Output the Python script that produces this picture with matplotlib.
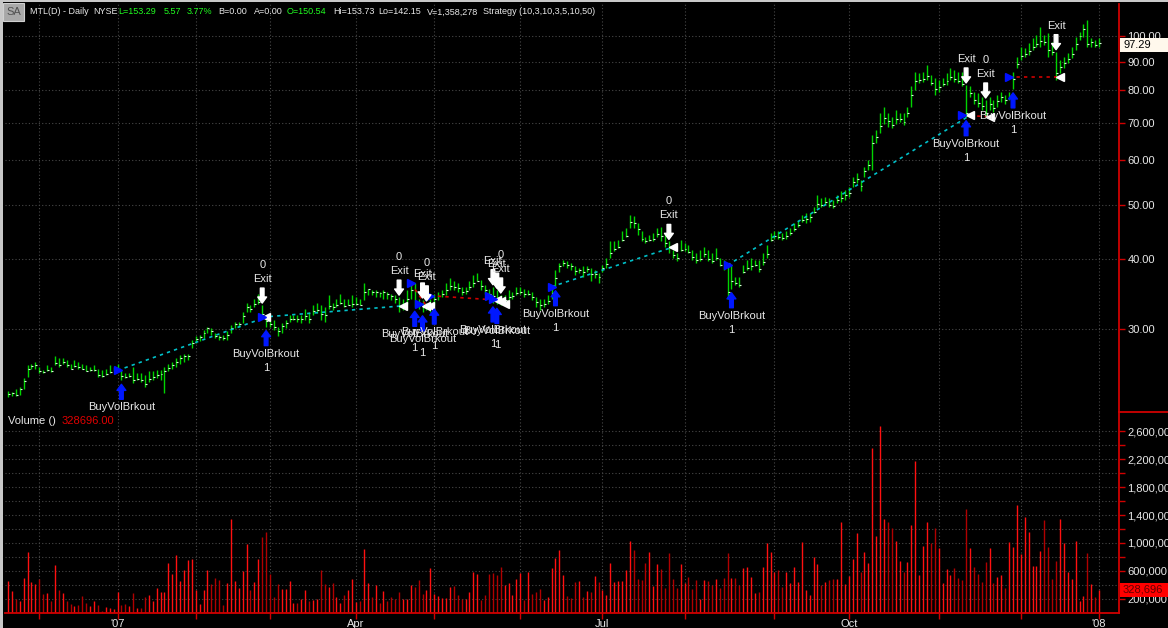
import numpy as np
import matplotlib
matplotlib.use("Agg")
import matplotlib.pyplot as plt
from matplotlib.ticker import FixedLocator, FuncFormatter, NullLocator
from matplotlib.transforms import offset_copy
from matplotlib.patches import Rectangle
from matplotlib.lines import Line2D

plt.rcParams['font.family'] = ['Liberation Sans', 'DejaVu Sans']

# daily bars, MTL, 20 Nov 2006 .. 2 Jan 2008 (280 sessions)
close = [23.0, 23.1, 22.9, 23.4, 24.2, 25.5, 25.8, 25.9, 25.2, 25.1,
         25.4, 25.2, 26.1, 25.9, 26.2, 25.9, 25.5, 25.8, 25.7, 25.5,
         25.2, 25.3, 25.3, 24.8, 24.7, 24.9, 25.1, 25.3, 25.5, 24.7,
         24.6, 24.7, 24.3, 24.4, 24.3, 23.9, 24.4, 24.6, 24.8, 24.9,
         25.2, 25.6, 25.9, 26.2, 26.6, 26.8, 26.9, 28.3, 28.8, 29.0,
         29.5, 30.1, 29.7, 29.2, 29.0, 28.9, 29.3, 30.1, 30.6, 30.6,
         31.6, 32.8, 32.6, 33.2, 33.5, 31.9, 31.0, 30.6, 30.3, 29.8,
         30.4, 30.7, 31.2, 31.3, 31.2, 31.3, 31.7, 31.3, 32.3, 32.5,
         31.9, 31.8, 33.0, 32.8, 33.1, 33.4, 33.0, 33.1, 33.2, 33.2,
         33.1, 35.0, 35.3, 34.9, 35.0, 34.8, 34.9, 34.6, 34.4, 34.0,
         33.0, 33.3, 34.0, 35.2, 33.6, 33.3, 32.8, 32.9, 33.0, 34.0,
         34.4, 34.6, 35.2, 35.8, 35.6, 35.5, 35.0, 35.1, 35.6, 36.2,
         36.6, 35.8, 35.2, 34.7, 34.3, 34.0, 33.7, 33.8, 34.2, 34.3,
         34.8, 34.9, 34.6, 34.6, 34.2, 33.5, 33.1, 33.3, 33.7, 34.8,
         37.0, 38.8, 39.3, 39.0, 38.8, 38.1, 38.2, 38.0, 38.4, 37.6,
         37.6, 37.2, 38.5, 39.2, 41.0, 41.7, 42.1, 43.2, 44.0, 46.5,
         46.3, 45.2, 43.5, 43.0, 43.2, 43.5, 44.3, 44.0, 42.8, 42.0,
         40.6, 40.2, 41.5, 41.6, 41.2, 40.3, 39.8, 40.0, 40.8, 40.0,
         39.7, 40.2, 39.0, 38.5, 35.0, 36.5, 36.3, 36.0, 38.0, 38.6,
         38.8, 39.0, 38.4, 39.5, 40.8, 43.2, 43.9, 43.8, 43.6, 44.0,
         44.6, 45.3, 46.0, 47.0, 47.2, 47.5, 48.6, 50.2, 50.0, 50.6,
         50.0, 49.8, 51.0, 51.5, 52.0, 52.5, 55.0, 55.5, 54.0, 57.5,
         58.8, 64.5, 66.0, 69.0, 71.5, 70.5, 69.5, 71.0, 71.2, 70.2,
         73.0, 78.5, 83.0, 83.5, 84.0, 85.0, 82.5, 80.5, 81.0, 82.0,
         83.0, 84.5, 84.0, 83.0, 82.0, 73.0, 79.0, 77.0, 76.0, 75.0,
         73.0, 75.5, 74.5, 76.5, 77.8, 77.0, 78.0, 84.0, 89.0, 92.0,
         92.8, 94.0, 95.5, 97.0, 98.0, 97.5, 94.5, 93.5, 86.0, 88.0,
         89.5, 91.0, 93.0, 97.0, 100.0, 103.0, 97.0, 97.5, 96.5, 97.29]

high = [23.3, 23.2, 23.4, 23.6, 24.5, 25.9, 26.0, 26.2, 25.7, 25.4,
        25.9, 25.7, 26.8, 26.6, 26.6, 26.4, 26.0, 26.4, 26.2, 26.0,
        25.9, 25.7, 25.9, 25.5, 25.35, 25.5, 25.9, 25.7, 26.0, 25.4,
        25.0, 25.0, 25.7, 25.0, 25.0, 24.8, 25.2, 25.2, 25.35, 25.35,
        25.7, 26.0, 26.2, 26.6, 27.0, 27.1, 27.1, 28.7, 29.1, 29.3,
        29.9, 30.3, 30.1, 29.5, 29.3, 29.3, 29.7, 30.5, 30.9, 30.9,
        32.2, 33.4, 33.1, 33.9, 34.6, 33.1, 31.8, 31.1, 31.1, 30.3,
        30.7, 31.1, 31.8, 31.8, 31.8, 31.8, 32.6, 32.2, 33.1, 33.4,
        33.1, 32.8, 34.5, 33.4, 33.9, 34.6, 33.9, 33.9, 34.5, 34.2,
        33.9, 36.2, 35.4, 35.2, 35.2, 34.9, 35.2, 34.9, 34.6, 34.5,
        34.2, 33.9, 35.2, 36.2, 36.2, 33.9, 33.8, 33.4, 33.9, 34.6,
        34.9, 35.2, 36.2, 37.0, 36.5, 36.2, 35.7, 35.7, 36.5, 37.5,
        37.8, 36.7, 35.9, 35.4, 35.7, 35.2, 34.5, 34.5, 35.2, 34.9,
        35.7, 35.7, 35.4, 35.2, 34.9, 34.2, 33.9, 33.9, 34.5, 35.9,
        38.2, 39.3, 39.8, 39.6, 39.3, 38.8, 38.5, 38.8, 38.8, 38.5,
        38.2, 37.8, 39.0, 40.1, 43.0, 43.0, 43.3, 44.8, 45.4, 48.0,
        47.7, 46.3, 44.8, 43.8, 44.1, 44.5, 45.4, 45.7, 44.5, 43.0,
        41.5, 41.0, 43.3, 42.7, 42.4, 41.5, 41.0, 41.5, 42.1, 41.5,
        41.0, 41.8, 40.1, 39.8, 38.8, 39.0, 37.2, 37.2, 39.0, 39.8,
        40.1, 39.8, 39.8, 41.0, 42.4, 44.5, 44.8, 44.8, 44.5, 44.8,
        45.4, 46.3, 47.0, 48.0, 48.3, 48.3, 49.6, 52.0, 51.3, 51.6,
        51.3, 51.0, 52.0, 52.8, 53.2, 53.8, 56.1, 56.9, 55.4, 58.5,
        60.1, 66.6, 68.0, 72.8, 74.8, 72.8, 71.8, 73.8, 72.8, 72.8,
        74.8, 81.3, 86.4, 85.8, 86.4, 88.8, 85.2, 84.1, 83.5, 84.1,
        85.8, 87.6, 87.0, 86.4, 86.4, 81.8, 81.3, 79.6, 79.1, 78.0,
        76.9, 78.0, 76.9, 78.5, 79.6, 78.5, 79.6, 86.4, 91.9, 95.8,
        95.1, 97.1, 99.1, 100.4, 103.9, 100.4, 101.1, 97.7, 93.8, 90.6,
        91.9, 93.2, 95.8, 99.7, 101.8, 105.3, 106.8, 99.1, 98.4, 99.1]

low = [22.7, 22.8, 22.8, 22.9, 23.4, 24.6, 25.5, 25.5, 25.0, 25.0,
       25.2, 25.1, 25.9, 25.7, 26.0, 25.7, 25.5, 25.7, 25.5, 25.5,
       25.2, 25.2, 25.2, 24.6, 24.6, 24.8, 25.0, 25.2, 25.3, 24.3,
       24.5, 24.6, 24.0, 24.3, 24.1, 23.6, 24.1, 24.3, 24.5, 24.3,
       23.1, 25.2, 25.5, 25.7, 26.0, 26.2, 26.4, 27.7, 28.3, 28.5,
       28.9, 29.5, 29.3, 28.9, 28.7, 28.7, 28.7, 29.5, 30.1, 30.3,
       30.7, 32.2, 32.2, 32.8, 33.2, 31.5, 30.3, 30.3, 29.9, 29.1,
       29.5, 30.1, 30.9, 31.1, 30.9, 30.7, 31.1, 30.7, 31.8, 32.0,
       31.1, 30.9, 32.6, 32.4, 32.8, 33.2, 32.8, 33.1, 32.8, 33.1,
       33.1, 33.8, 34.5, 34.5, 34.2, 34.2, 33.9, 33.9, 33.8, 33.4,
       32.2, 32.4, 33.2, 33.9, 32.8, 32.6, 32.2, 32.4, 32.2, 33.1,
       33.8, 34.2, 34.5, 35.2, 35.2, 34.9, 34.5, 34.6, 35.2, 35.7,
       36.5, 35.2, 34.6, 33.9, 33.4, 33.2, 33.1, 33.4, 33.8, 33.9,
       34.5, 34.6, 34.2, 34.5, 33.8, 32.8, 32.4, 32.8, 33.2, 33.9,
       35.7, 38.0, 38.8, 38.5, 38.2, 37.5, 37.8, 37.2, 38.0, 36.5,
       37.0, 36.2, 38.0, 38.5, 40.1, 41.3, 41.8, 43.0, 43.8, 45.4,
       45.4, 44.1, 43.0, 42.7, 43.0, 43.0, 43.8, 43.0, 42.1, 41.0,
       40.1, 39.6, 41.3, 41.3, 41.0, 39.8, 39.3, 39.6, 40.4, 39.6,
       39.3, 39.8, 38.8, 38.2, 33.9, 35.4, 35.9, 35.7, 37.8, 38.2,
       38.2, 38.8, 38.0, 39.0, 40.1, 43.0, 43.5, 43.5, 43.3, 43.5,
       44.1, 44.8, 45.7, 46.6, 46.3, 46.6, 48.3, 49.3, 49.6, 49.9,
       49.6, 49.3, 50.3, 50.6, 51.0, 51.7, 53.8, 54.6, 52.8, 56.1,
       57.7, 57.7, 64.4, 67.1, 69.8, 68.9, 68.4, 69.8, 70.3, 69.4,
       71.8, 74.8, 80.1, 82.4, 82.9, 83.5, 81.8, 78.5, 79.6, 81.3,
       81.8, 83.5, 82.9, 82.4, 81.3, 71.8, 78.0, 75.8, 74.8, 73.8,
       71.8, 73.8, 73.3, 74.8, 76.4, 75.8, 76.9, 80.5, 87.6, 90.6,
       91.9, 92.5, 94.4, 95.8, 95.8, 96.4, 91.9, 92.5, 83.5, 85.8,
       87.6, 89.4, 91.3, 94.4, 98.4, 99.7, 95.8, 95.8, 95.8, 95.8]

# volume in thousands of shares
volume = [458, 305, 200, 161, 501, 865, 444, 415, 487, 262,
          276, 161, 683, 329, 276, 171, 123, 99, 109, 243,
          133, 90, 161, 104, 20, 80, 70, 56, 300, 104,
          123, 90, 286, 61, 66, 228, 257, 171, 353, 300,
          300, 712, 559, 822, 454, 612, 750, 770, 319, 123,
          329, 612, 415, 501, 463, 104, 430, 1344, 458, 358,
          602, 990, 329, 444, 770, 1090, 1162, 559, 228, 415,
          343, 343, 458, 133, 133, 200, 329, 161, 176, 200,
          612, 415, 372, 430, 228, 133, 257, 319, 487, 147,
          161, 918, 430, 228, 401, 142, 315, 171, 228, 200,
          300, 190, 190, 401, 372, 473, 272, 329, 640, 272,
          243, 214, 214, 372, 386, 257, 200, 200, 300, 583,
          559, 185, 257, 559, 568, 540, 655, 401, 425, 257,
          482, 568, 176, 588, 272, 300, 343, 185, 228, 640,
          779, 904, 535, 233, 214, 444, 458, 219, 315, 300,
          530, 444, 329, 257, 712, 444, 458, 458, 616, 1033,
          894, 487, 473, 712, 865, 386, 703, 631, 358, 851,
          487, 358, 703, 430, 516, 343, 473, 200, 473, 458,
          401, 487, 358, 501, 851, 501, 501, 401, 645, 659,
          516, 286, 300, 659, 995, 875, 588, 616, 372, 588,
          430, 659, 444, 1019, 329, 257, 794, 693, 401, 444,
          473, 487, 487, 1306, 415, 530, 765, 1143, 588, 875,
          707, 2369, 1105, 2676, 1344, 1301, 1215, 1033, 736, 588,
          722, 1258, 2182, 545, 961, 1301, 1004, 1215, 923, 430,
          626, 545, 645, 501, 473, 1483, 923, 659, 559, 444,
          722, 923, 430, 516, 545, 358, 1019, 947, 1550, 837,
          1373, 1162, 674, 674, 889, 1330, 937, 487, 736, 1344,
          1004, 588, 487, 1033, 171, 243, 851, 415, 228, 328.696]

# strategy trades (bar index, price)
entry_bar = [29, 66, 104, 106, 109, 124, 125, 140, 185, 245, 257]
entry_px = [25.3, 31.5, 36.2, 33.3, 34.4, 34.3, 34.0, 35.7, 39.0, 72.2, 84.6]
exit_bar = [65, 100, 106, 107, 124, 125, 126, 169, 245, 250, 268]
exit_px = [31.5, 33.0, 33.0, 33.0, 33.8, 33.6, 33.3, 42.0, 72.2, 71.8, 84.6]
exit_pos = ['0', '0', '', '0', '', '', '0', '0', '', '0', '']

# month starts (bar index) and axis labels
month_start = [8, 28, 48, 67, 89, 109, 131, 152, 173, 196, 215, 238, 259, 279]
month_label = ['', "'07", '', '', 'Apr', '', '', 'Jul', '', '', 'Oct', '', '', "'08"]

price_ticks = [30, 40, 50, 60, 70, 80, 90, 100]
vol_ticks = [200000, 600000, 1000000, 1400000, 1800000, 2200000, 2600000]
vol_minor = [400000, 800000, 1200000, 1600000, 2000000, 2400000]

header = [("MTL(D) - Daily", 30, 'white'), ("NYSE", 93, 'white'),
          ("L=153.29", 118, 'lime'), ("5.57", 164, 'lime'), ("3.77%", 187, 'lime'),
          ("B=0.00", 218, 'white'), ("A=0.00", 254, 'white'), ("O=150.54", 287, 'lime'),
          ("Hi=153.73", 333, 'white'), ("Lo=142.15", 378, 'white'),
          ("V=1,358,278", 427, 'white'), ("Strategy (10,3,10,3,5,10,50)", 483, 'white')]

close = np.array(close)
high = np.array(high)
low = np.array(low)
vol = np.array(volume) * 1000
x = np.arange(len(close))

W, H = 1168, 628
RED = '#d00000'
TXT = '#e8e8e8'
GRID = '#484848'

fig = plt.figure(figsize=(W / 100, H / 100), dpi=100, facecolor='black')
ax = fig.add_axes([5 / W, 1 - 412 / H, 1114 / W, 408 / H], facecolor='black')
axv = fig.add_axes([5 / W, 1 - 612.5 / H, 1114 / W, 200.5 / H], facecolor='black', sharex=ax)

# price bars
ax.vlines(x, low, high, color='#00d400', lw=1.0, zorder=2)
ax.hlines(close, x, x + 0.5, color='#d8ffd8', lw=0.8, zorder=2)

# volume bars, bright on up days
up = np.r_[True, close[1:] >= close[:-1]]
vcol = np.where(up, '#ff1010', '#b00000')
axv.vlines(x, 0, vol, colors=vcol, lw=1.0, zorder=2)

ax.set_yscale('log')
ax.set_ylim(21.33, 114.1)
ax.set_xlim(-0.77, 284.1)
axv.set_ylim(0, 2.88e6)

ax.yaxis.set_major_locator(FixedLocator(price_ticks))
ax.yaxis.set_major_formatter(FuncFormatter(lambda v, p: f'{v:.2f}'))
ax.yaxis.set_minor_locator(NullLocator())
axv.yaxis.set_major_locator(FixedLocator(vol_ticks))
axv.yaxis.set_minor_locator(FixedLocator(vol_minor))
axv.yaxis.set_major_formatter(FuncFormatter(lambda v, p: f'{int(round(v)):,}'))
axv.xaxis.set_major_locator(FixedLocator(month_start))
axv.set_xticklabels(month_label)

for a in (ax, axv):
    a.yaxis.tick_right()
    a.tick_params(axis='y', which='both', colors=RED, labelcolor=TXT, labelsize=8,
                  length=4, width=1, pad=2)
    a.grid(axis='both', which='both', color=GRID, ls=(0, (1, 2)), lw=0.8)
    a.set_axisbelow(True)
    for s in ('left', 'top'):
        a.spines[s].set_visible(False)
    a.spines['right'].set_color(RED)
    a.spines['right'].set_linewidth(1.3)
ax.spines['bottom'].set_visible(False)
axv.spines['bottom'].set_color(RED)
axv.spines['bottom'].set_linewidth(1.3)
ax.tick_params(axis='x', length=0, labelbottom=False)
axv.tick_params(axis='x', colors=RED, labelcolor=TXT, labelsize=8, length=4, width=1, pad=1)


def off(dy):
    return offset_copy(ax.transData, fig=fig, x=0, y=dy, units='dots')


arrow_style = 'simple,head_length=0.55,head_width=0.8,tail_width=0.33'

# trade lines and markers
for k in range(len(entry_bar)):
    e, xb = entry_bar[k], exit_bar[k]
    col = '#00c0c8' if exit_px[k] > entry_px[k] else '#d00000'
    ax.plot([e - 1, xb + 1], [entry_px[k], exit_px[k]], color=col, ls=(0, (2, 2.5)),
            lw=1.2, zorder=3)
    ax.plot(e - 1, entry_px[k], marker='>', color='#0010ff', ms=5.5, zorder=5)
    ax.plot(xb + 1, exit_px[k], marker='<', color='white', ms=5.5, zorder=5)

for e in entry_bar:
    lo = low[e]
    ax.annotate('', xy=(e, lo), xycoords=off(-4), xytext=(e, lo), textcoords=off(-19),
                arrowprops=dict(arrowstyle=arrow_style, color='#0018ff', mutation_scale=8,
                                shrinkA=0, shrinkB=0), zorder=6)
    ax.text(e, lo, 'BuyVolBrkout', transform=off(-27), ha='center', va='center',
            color=TXT, fontsize=8, clip_on=True, zorder=6)
    ax.text(e, lo, '1', transform=off(-41), ha='center', va='center',
            color=TXT, fontsize=8, clip_on=True, zorder=6)

for k, xb in enumerate(exit_bar):
    hi = high[xb]
    ax.annotate('', xy=(xb, hi), xycoords=off(2), xytext=(xb, hi), textcoords=off(17),
                arrowprops=dict(arrowstyle=arrow_style, color='white', mutation_scale=8,
                                shrinkA=0, shrinkB=0), zorder=6)
    ax.text(xb, hi, 'Exit', transform=off(26), ha='center', va='center',
            color=TXT, fontsize=8, clip_on=True, zorder=6)
    if exit_pos[k]:
        ax.text(xb, hi, exit_pos[k], transform=off(40), ha='center', va='center',
                color=TXT, fontsize=8, clip_on=True, zorder=6)

# header line
fig.add_artist(Rectangle((3 / W, 1 - 21 / H), 21 / W, 18 / H, transform=fig.transFigure,
                         fc='#a8a8a8', ec='#d0d0d0', lw=0.8, zorder=5))
fig.text(13.5 / W, 1 - 12 / H, 'SA', color='#505050', fontsize=8, ha='center', va='center',
         zorder=6)
for txt, px, c in header:
    fig.text(px / W, 1 - 12 / H, txt, color='#20ff20' if c == 'lime' else TXT,
             fontsize=6.5, va='center', zorder=6)

fig.text(8 / W, 1 - 421 / H, 'Volume ()', color=TXT, fontsize=8, va='center')
fig.text(62 / W, 1 - 421 / H, f'{vol[-1]:.2f}', color='#e00000', fontsize=8, va='center')

# window borders and panel divider on the scale side
fig.add_artist(Rectangle((0, 0), 3 / W, 1, transform=fig.transFigure, fc='#c8c8c8',
                         ec='none', zorder=7))
fig.add_artist(Rectangle((0, 1 - 2 / H), 1, 2 / H, transform=fig.transFigure, fc='#c8c8c8',
                         ec='none', zorder=7))
fig.add_artist(Line2D([1119 / W, 1], [1 - 412 / H] * 2, color=RED, lw=1.3, zorder=5))

# last value boxes on the scales
yp = ax.transData.transform((0, close[-1]))[1] - 2.5
fig.add_artist(Rectangle((1120 / W, (yp - 7) / H), 48 / W, 14 / H, transform=fig.transFigure,
                         fc='#fff8ec', ec='none', zorder=8))
fig.text(1123 / W, yp / H, f'{close[-1]:.2f}', color='black', fontsize=8, va='center',
         zorder=9)
yv = axv.transData.transform((0, vol[-1]))[1]
fig.add_artist(Rectangle((1120 / W, (yv - 7) / H), 48 / W, 14 / H, transform=fig.transFigure,
                         fc='#ff0000', ec='none', zorder=8))
fig.text(1123 / W, yv / H, f'{int(round(vol[-1])):,}', color='#600000', fontsize=8,
         va='center', zorder=9)

fig.savefig('out.png', dpi=100, facecolor='black')
